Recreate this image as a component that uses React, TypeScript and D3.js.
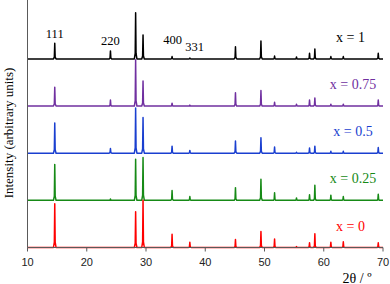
import { useMemo } from 'react';
import * as d3 from 'd3';

// peak positions (2theta, degrees)
const peakPos = [14.6, 24.0, 28.25, 29.5, 34.4, 37.4, 45.1, 49.4, 51.7, 55.4, 57.6, 58.5, 61.2, 63.3, 69.2];

// peak heights per sample (arbitrary units, stack spacing = 100)
const hX1 = [33, 17, 98, 51, 5, 2, 26, 38, 6, 4, 12, 21, 5, 5, 12];
const hX075 = [40, 13, 98, 53, 6, 2, 28, 33, 8, 4, 13, 17, 4, 4, 13];
const hX05 = [64, 10, 96, 76, 15, 6, 26, 33, 13, 2, 11, 15, 4, 4, 12];
const hX025 = [76, 3, 87, 91, 21, 8, 27, 45, 16, 5, 12, 32, 11, 8, 13];
const hX0 = [93, 0, 76, 100, 28, 11, 17, 34, 18, 2, 10, 29, 11, 12, 10];

const seriesNames = ['x = 1', 'x = 0.75', 'x = 0.5', 'x = 0.25', 'x = 0'];
const seriesHeights = [hX1, hX075, hX05, hX025, hX0];
const seriesOffsets = [400, 300, 200, 100, 0];
const seriesColors = ['#000000', '#7030a0', '#1a3fd0', '#168a16', '#ff0000'];

const xTicks = [10, 20, 30, 40, 50, 60, 70];

const hklLabels = ['111', '220', '400', '331'];
const hklPos = [14.6, 24.0, 34.5, 38.2];
const hklLevel = [44, 30, 31, 16];

const W = 390;
const H = 284;

export default function App() {
  const x = d3.scaleLinear().domain([10, 70]).range([27.5, 383]);
  const y = d3.scaleLinear().domain([0, 525]).range([247.5, 0]);

  const paths = useMemo(() => {
    const line = d3.line<[number, number]>()
      .x(d => x(d[0]))
      .y(d => y(d[1]));
    return seriesHeights.map((hs, i) => {
      const off = seriesOffsets[i];
      const pts: [number, number][] = [[10, off]];
      peakPos.forEach((p, j) => {
        const h = hs[j];
        if (h <= 0) return;
        pts.push([p - 0.22, off]);
        pts.push([p - 0.07, off + h * 0.12]);
        pts.push([p, off + h]);
        pts.push([p + 0.07, off + h * 0.12]);
        pts.push([p + 0.22, off]);
      });
      pts.push([70, off]);
      return line(pts) || '';
    });
  }, []);

  const serif = '"Liberation Serif", "Times New Roman", serif';
  const sans = '"Liberation Sans", Arial, sans-serif';

  return (
    <div style={{ position: 'fixed', left: 0, top: 0, width: W, height: H, background: '#fff' }}>
      <svg width={W} height={H} viewBox={`0 0 ${W} ${H}`}>
        <rect width={W} height={H} fill="#fff" />
        {paths.map((d, i) => (
          <path key={i} d={d} fill="none" stroke={seriesColors[i]} strokeWidth={1.5} strokeLinejoin="round" />
        ))}

        {/* axes */}
        <line x1={x(10)} x2={x(10)} y1={0} y2={y(0)} stroke="#5a5a5a" strokeWidth={1} />
        <line x1={x(10)} x2={x(70)} y1={y(0)} y2={y(0)} stroke="#5a5a5a" strokeWidth={1} />
        {xTicks.map(t => (
          <g key={t}>
            <line x1={x(t)} x2={x(t)} y1={y(0)} y2={y(0) + 4} stroke="#5a5a5a" strokeWidth={1} />
            <text x={x(t)} y={265.7} textAnchor="middle" fontFamily={sans} fontSize={11} fill="#222">{t}</text>
          </g>
        ))}

        {/* series labels */}
        {seriesNames.map((n, i) => (
          <text key={n} x={i === 0 || i === 4 ? 350.5 : 353} y={y(seriesOffsets[i]) - 17}
            textAnchor="middle" fontFamily={serif} fontSize={14} fill={seriesColors[i]}>{n}</text>
        ))}

        {/* hkl labels */}
        {hklLabels.map((l, i) => (
          <text key={l} x={x(hklPos[i])} y={y(400 + hklLevel[i])} textAnchor="middle"
            fontFamily={serif} fontSize={12.5} fill="#000">{l}</text>
        ))}

        {/* axis titles */}
        <text x={357} y={282.5} textAnchor="middle" fontFamily={serif} fontSize={14} fill="#000">2θ / º</text>
        <text transform="translate(13,133) rotate(-90)" textAnchor="middle" fontFamily={serif} fontSize={13} fill="#000">
          Intensity (arbitrary units)
        </text>
      </svg>
    </div>
  );
}
